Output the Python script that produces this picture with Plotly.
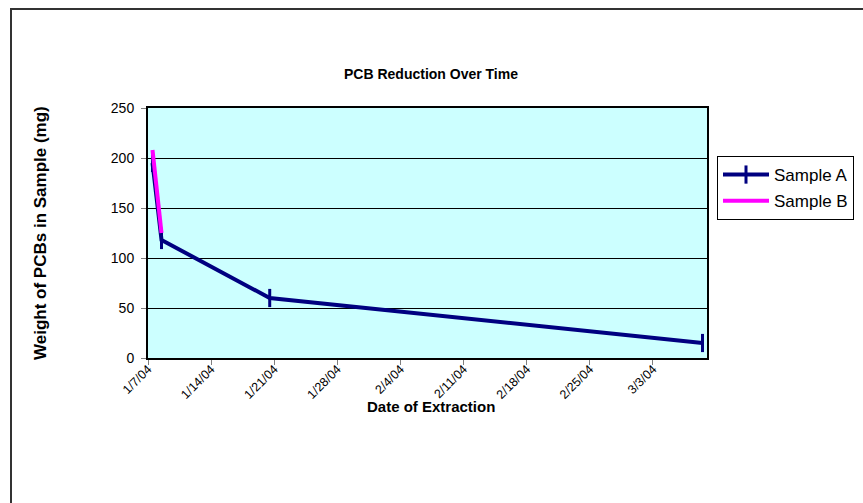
import plotly.graph_objects as go
import pandas as pd

# Data
dates_a = ["2004-01-07", "2004-01-08", "2004-01-20", "2004-03-08"]
values_a = [195, 118, 60, 15]
dates_b = ["2004-01-07", "2004-01-08"]
values_b = [208, 125]
tick_start = "2004-01-07"
axis_end = "2004-03-09"

FONT = "Liberation Sans, Arial, sans-serif"
W, H = 863, 503

# Excel date axis "between categories": points sit at the middle of each day
half_day = pd.Timedelta(hours=12)
xa = pd.to_datetime(dates_a) + half_day
xb = pd.to_datetime(dates_b) + half_day

fig = go.Figure()
fig.add_trace(go.Scatter(
    x=xa, y=values_a, name="Sample A", mode="lines+markers",
    line=dict(color="#000080", width=4),
    marker=dict(symbol="line-ns", size=13, line=dict(color="#000080", width=3)),
    legendgroup="a",
))
fig.add_trace(go.Scatter(
    x=xb, y=values_b, name="Sample B", mode="lines",
    line=dict(color="#FF00FF", width=4),
    legendgroup="b",
))

fig.update_layout(
    width=W, height=H,
    margin=dict(l=148, r=156, t=108, b=145, autoexpand=False),
    paper_bgcolor="white",
    plot_bgcolor="#CCFFFF",
    font=dict(family=FONT, size=12, color="black"),
    title=dict(text="<b>PCB Reduction Over Time</b>", x=431 / W, xref="container",
               xanchor="center", y=1 - 74 / H, yanchor="middle",
               font=dict(family=FONT, size=14, color="black")),
    showlegend=True,
    legend=dict(xref="container", yref="container",
                x=717 / W, y=1 - 156 / H, xanchor="left", yanchor="top",
                bgcolor="white", bordercolor="black", borderwidth=1,
                font=dict(family=FONT, size=17), tracegroupgap=1,
                itemwidth=46),
    xaxis=dict(
        type="date", range=[tick_start, axis_end],
        tick0=tick_start, dtick=7 * 86400000, tickformat="%-m/%-d/%y",
        tickangle=-45, ticks="outside", ticklen=5, tickcolor="#808080",
        showgrid=False, zeroline=False,
        showline=True, linecolor="black", linewidth=2, mirror=True,
        tickfont=dict(family=FONT, size=12.5), ticklabelstandoff=-8,
    ),
    yaxis=dict(
        range=[0, 250], dtick=50, ticks="outside", ticklen=5, tickcolor="#808080",
        showgrid=True, gridcolor="black", gridwidth=1, zeroline=False,
        showline=True, linecolor="black", linewidth=2, mirror=True,
        tickfont=dict(family=FONT, size=14), ticklabelstandoff=4,
    ),
    annotations=[
        dict(text="<b>Weight of PCBs in Sample (mg)</b>", xref="paper", yref="paper",
             x=(40 - 148) / 559, y=0.5, textangle=-90, showarrow=False,
             xanchor="center", yanchor="middle", font=dict(family=FONT, size=17)),
        dict(text="<b>Date of Extraction</b>", xref="paper", yref="paper",
             x=(431 - 148) / 559, y=-(406 - 358) / 250, showarrow=False,
             xanchor="center", yanchor="middle", font=dict(family=FONT, size=15)),
    ],
    shapes=[
        dict(type="rect", xref="paper", yref="paper",
             x0=(11 - 148) / 559, x1=2.0, y0=-2.0, y1=1 + (108 - 9) / 250,
             line=dict(color="#333333", width=2), fillcolor="rgba(0,0,0,0)",
             layer="below"),
    ],
)

fig.write_html("out.html", config={"displayModeBar": False},
               post_script="document.body.style.margin='0';")
